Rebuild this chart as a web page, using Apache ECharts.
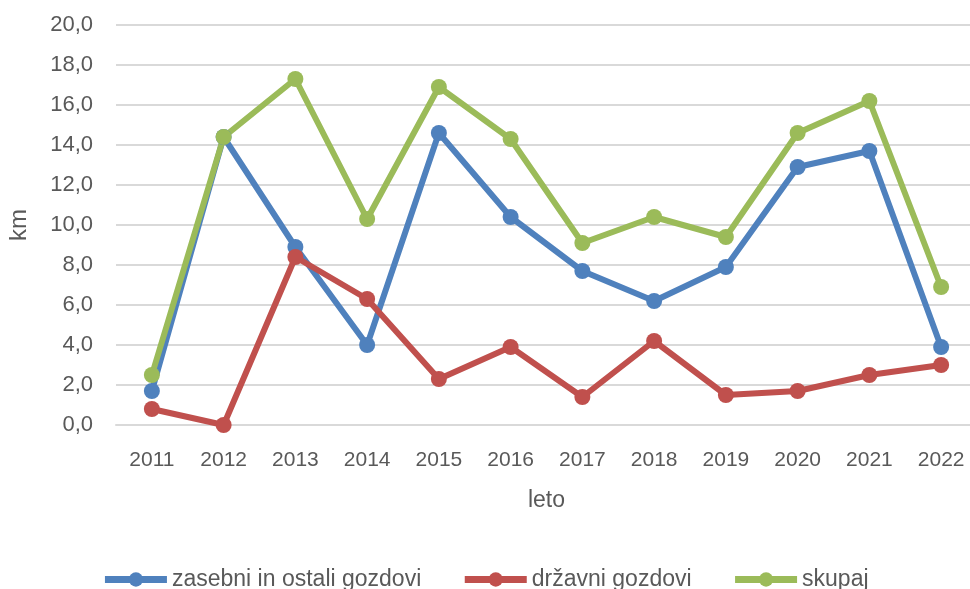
<!DOCTYPE html>
<html>
<head>
<meta charset="utf-8">
<script src="https://cdn.jsdelivr.net/npm/echarts@6/dist/echarts.min.js"></script>
<style>
  html, body { margin: 0; padding: 0; background: #fff; }
  #main { width: 970px; height: 589px; }
</style>
</head>
<body>
<div id="main"></div>
<script>
var years = ['2011', '2012', '2013', '2014', '2015', '2016', '2017', '2018', '2019', '2020', '2021', '2022'];
var zasebni = [1.7, 14.4, 8.9, 4.0, 14.6, 10.4, 7.7, 6.2, 7.9, 12.9, 13.7, 3.9];
var drzavni = [0.8, 0.0, 8.4, 6.3, 2.3, 3.9, 1.4, 4.2, 1.5, 1.7, 2.5, 3.0];
var skupaj = [2.5, 14.4, 17.3, 10.3, 16.9, 14.3, 9.1, 10.4, 9.4, 14.6, 16.2, 6.9];

var font = 'Liberation Sans, Arial, sans-serif';
var txt = '#595959';

function serie(name, data, color) {
  return {
    name: name,
    type: 'line',
    data: data,
    symbol: 'circle',
    symbolSize: 16,
    lineStyle: { width: 6, color: color },
    itemStyle: { color: color },
    animation: false
  };
}

var chart = echarts.init(document.getElementById('main'));
chart.setOption({
  animation: false,
  grid: { left: 116, right: -7, top: 25, bottom: 164, containLabel: false, outerBoundsMode: 'none' },
  legend: {
    top: 563,
    left: 'center',
    itemWidth: 62,
    itemHeight: 18,
    itemGap: 40,
    lineStyle: { width: 7 },
    textStyle: { fontSize: 23, color: txt, fontFamily: font },
    data: ['zasebni in ostali gozdovi', 'državni gozdovi', 'skupaj']
  },
  xAxis: {
    type: 'category',
    data: years,
    boundaryGap: true,
    name: 'leto',
    nameLocation: 'middle',
    nameGap: 64,
    nameTextStyle: { fontSize: 23, color: txt, fontFamily: font },
    axisLine: { show: true, lineStyle: { color: '#d9d9d9', width: 2 } },
    axisTick: { show: false },
    axisLabel: { fontSize: 21, color: txt, fontFamily: font, margin: 25 }
  },
  yAxis: {
    type: 'value',
    min: 0,
    max: 20,
    interval: 2,
    name: 'km',
    nameLocation: 'middle',
    nameRotate: 90,
    nameGap: 85,
    nameTextStyle: { fontSize: 24, color: txt, fontFamily: font },
    axisLine: { show: false },
    axisTick: { show: false },
    splitLine: { lineStyle: { color: '#d9d9d9', width: 2 } },
    axisLabel: {
      fontSize: 22, color: txt, fontFamily: font, margin: 23,
      formatter: function (v) { return v.toFixed(1).replace('.', ','); }
    }
  },
  series: [
    serie('zasebni in ostali gozdovi', zasebni, '#4f81bd'),
    serie('državni gozdovi', drzavni, '#c0504d'),
    serie('skupaj', skupaj, '#9bbb59')
  ]
});
</script>
</body>
</html>
